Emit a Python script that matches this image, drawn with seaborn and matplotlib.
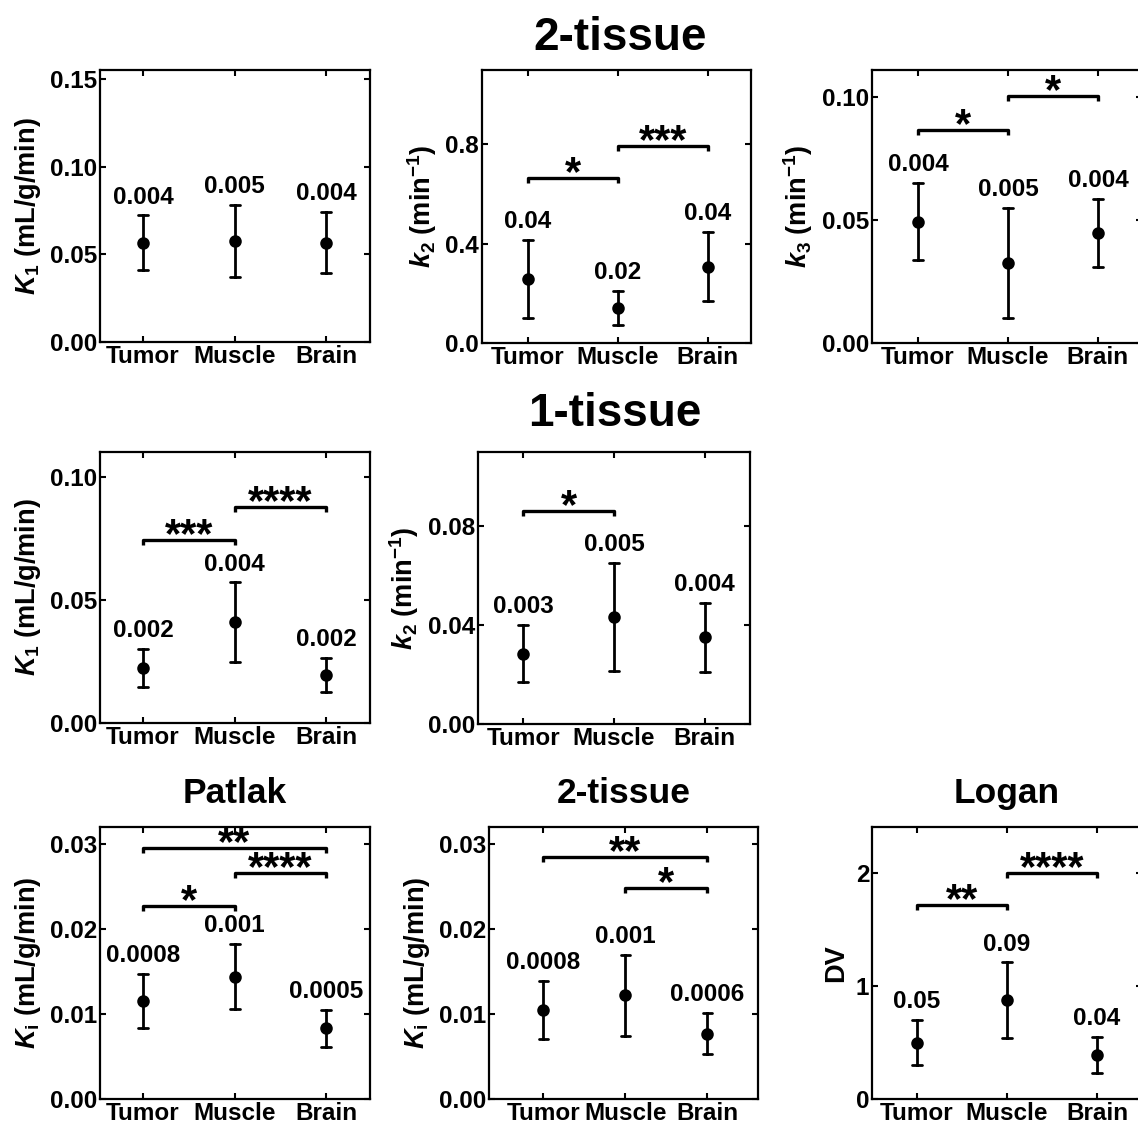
import numpy as np
import pandas as pd
import seaborn as sns
import matplotlib.pyplot as plt

tissues = ['Tumor', 'Muscle', 'Brain']

# 2-tissue model: mean, SD (error bars) and SEM (printed above each bar)
k1_2t_mean = [0.0567, 0.0577, 0.0567]
k1_2t_sd = [0.0154, 0.0206, 0.0176]
k1_2t_sem = ['0.004', '0.005', '0.004']

k2_2t_mean = [0.257, 0.140, 0.308]
k2_2t_sd = [0.157, 0.069, 0.140]
k2_2t_sem = ['0.04', '0.02', '0.04']

k3_2t_mean = [0.0494, 0.0325, 0.0448]
k3_2t_sd = [0.0157, 0.0225, 0.0139]
k3_2t_sem = ['0.004', '0.005', '0.004']

# 1-tissue model
k1_1t_mean = [0.0223, 0.0409, 0.0194]
k1_1t_sd = [0.0077, 0.0162, 0.0069]
k1_1t_sem = ['0.002', '0.004', '0.002']

k2_1t_mean = [0.0285, 0.0432, 0.0350]
k2_1t_sd = [0.0117, 0.0219, 0.0141]
k2_1t_sem = ['0.003', '0.005', '0.004']

# Ki (Patlak, 2-tissue) and DV (Logan)
ki_patlak_mean = [0.0115, 0.0144, 0.0083]
ki_patlak_sd = [0.0032, 0.0038, 0.0022]
ki_patlak_sem = ['0.0008', '0.001', '0.0005']

ki_2t_mean = [0.0105, 0.0122, 0.0077]
ki_2t_sd = [0.0034, 0.0048, 0.0024]
ki_2t_sem = ['0.0008', '0.001', '0.0006']

dv_logan_mean = [0.50, 0.875, 0.39]
dv_logan_sd = [0.20, 0.335, 0.16]
dv_logan_sem = ['0.05', '0.09', '0.04']

# significance brackets: (group a, group b, height, stars)
k1_2t_sig = []
k2_2t_sig = [(0, 1, 0.663, '*'), (1, 2, 0.792, '***')]
k3_2t_sig = [(0, 1, 0.0867, '*'), (1, 2, 0.1005, '*')]
k1_1t_sig = [(0, 1, 0.0741, '***'), (1, 2, 0.0875, '****')]
k2_1t_sig = [(0, 1, 0.086, '*')]
ki_patlak_sig = [(0, 2, 0.0295, '**'), (1, 2, 0.0266, '****'), (0, 1, 0.0227, '*')]
ki_2t_sig = [(0, 2, 0.0285, '**'), (1, 2, 0.0248, '*')]
dv_logan_sig = [(0, 1, 1.72, '**'), (1, 2, 2.0, '****')]

sns.set_theme(style='ticks')
plt.rcParams['font.family'] = ['Liberation Sans', 'DejaVu Sans']
plt.rcParams['font.weight'] = 'bold'
plt.rcParams['mathtext.fontset'] = 'custom'
plt.rcParams['mathtext.rm'] = 'Liberation Sans:bold'
plt.rcParams['mathtext.it'] = 'Liberation Sans:italic:bold'
plt.rcParams['mathtext.bf'] = 'Liberation Sans:bold'
for key in ['text.color', 'axes.labelcolor', 'xtick.color', 'ytick.color', 'axes.edgecolor']:
    plt.rcParams[key] = 'black'

W, H = 1138, 1124
fig = plt.figure(figsize=(W / 100, H / 100), dpi=100)


def add_ax(left, top, width, height):
    return fig.add_axes([left / W, 1 - (top + height) / H, width / W, height / H])


def draw_panel(ax, mean, sd, sem, sig, ylim, yticks, fmt, ylabel, xlim=(-0.5, 2.5), title=None):
    vals, groups = [], []
    for t, m, s in zip(tissues, mean, sd):
        vals += [m - s, m, m + s]
        groups += [t] * 3
    df = pd.DataFrame({'tissue': groups, 'value': vals})

    sns.pointplot(data=df, x='tissue', y='value', order=tissues,
                  estimator='median', errorbar=lambda v: (v.min(), v.max()),
                  color='black', marker='o', linestyle='none', markersize=7,
                  capsize=0.11, err_kws={'linewidth': 2}, ax=ax)

    # SEM text above each error bar
    for i, (m, s, lab) in enumerate(zip(mean, sd, sem)):
        ax.annotate(lab, (i, m + s), xytext=(0, 8.5), textcoords='offset points',
                    ha='center', va='baseline', fontsize=17.5, fontweight='bold')

    # significance brackets
    tick = (ylim[1] - ylim[0]) * 0.018
    for a, b, y, stars in sig:
        ax.plot([a, a, b, b], [y - tick, y, y, y - tick], color='black', lw=2.4,
                solid_capstyle='butt')
        ax.annotate(stars, ((a + b) / 2, y), xytext=(0, -5), textcoords='offset points',
                    ha='center', va='baseline', fontsize=30, fontweight='bold')

    ax.set_xlim(*xlim)
    ax.set_ylim(*ylim)
    ax.set_yticks(yticks)
    ax.set_yticklabels([fmt.format(v) for v in yticks])
    ax.set_xlabel('')
    ax.set_ylabel(ylabel, fontsize=19.5, fontweight='bold', labelpad=5)
    ax.tick_params(direction='in', top=True, right=True, length=4, width=1.5,
                   labelsize=17.5, pad=2)
    for lab in ax.get_xticklabels() + ax.get_yticklabels():
        lab.set_fontweight('bold')
    for sp in ax.spines.values():
        sp.set_visible(True)
        sp.set_linewidth(1.6)
    if title:
        ax.set_title(title, fontsize=25.5, fontweight='bold', pad=17)


k1_label = '$K_1$ (mL/g/min)'
k2_label = '$k_2$ (min$^{-1}$)'
k3_label = '$k_3$ (min$^{-1}$)'
ki_label = '$K_\\mathrm{i}$ (mL/g/min)'

# row 1: 2-tissue
ax = add_ax(100, 70, 270, 272)
draw_panel(ax, k1_2t_mean, k1_2t_sd, k1_2t_sem, k1_2t_sig, (0, 0.155),
           [0, 0.05, 0.10, 0.15], '{:.2f}', k1_label, xlim=(-0.47, 2.48))
ax = add_ax(482, 70, 269, 273)
draw_panel(ax, k2_2t_mean, k2_2t_sd, k2_2t_sem, k2_2t_sig, (0, 1.1),
           [0, 0.4, 0.8], '{:.1f}', k2_label, xlim=(-0.51, 2.48))
ax = add_ax(872, 70, 270, 273)
draw_panel(ax, k3_2t_mean, k3_2t_sd, k3_2t_sem, k3_2t_sig, (0, 0.111),
           [0, 0.05, 0.10], '{:.2f}', k3_label, xlim=(-0.51, 2.49))

# row 2: 1-tissue
ax = add_ax(100, 452, 270, 271)
draw_panel(ax, k1_1t_mean, k1_1t_sd, k1_1t_sem, k1_1t_sig, (0, 0.11),
           [0, 0.05, 0.10], '{:.2f}', k1_label, xlim=(-0.47, 2.48))
ax = add_ax(478, 452, 272, 272)
draw_panel(ax, k2_1t_mean, k2_1t_sd, k2_1t_sem, k2_1t_sig, (0, 0.11),
           [0, 0.04, 0.08], '{:.2f}', k2_label)

# row 3: Ki and DV
ax = add_ax(100, 827, 270, 272)
draw_panel(ax, ki_patlak_mean, ki_patlak_sd, ki_patlak_sem, ki_patlak_sig, (0, 0.032),
           [0, 0.01, 0.02, 0.03], '{:.2f}', ki_label, xlim=(-0.47, 2.48), title='Patlak')
ax = add_ax(489, 827, 269, 272)
draw_panel(ax, ki_2t_mean, ki_2t_sd, ki_2t_sem, ki_2t_sig, (0, 0.032),
           [0, 0.01, 0.02, 0.03], '{:.2f}', ki_label, xlim=(-0.66, 2.62), title='2-tissue')
ax = add_ax(872, 827, 270, 272)
draw_panel(ax, dv_logan_mean, dv_logan_sd, dv_logan_sem, dv_logan_sig, (0, 2.41),
           [0, 1, 2], '{:.0f}', 'DV', title='Logan')

fig.text(620 / W, 1 - 50 / H, '2-tissue', ha='center', va='baseline',
         fontsize=33, fontweight='bold')
fig.text(615 / W, 1 - 426 / H, '1-tissue', ha='center', va='baseline',
         fontsize=33, fontweight='bold')

fig.savefig('out.png', dpi=100)
